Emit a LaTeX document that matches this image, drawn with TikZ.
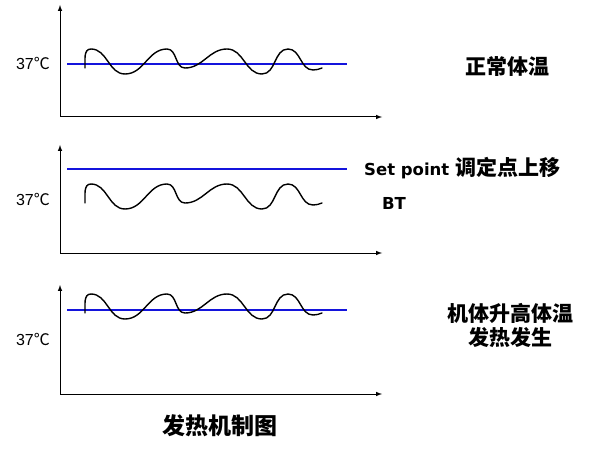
\documentclass[tikz,border=0pt]{standalone}
\usepackage{fontspec}
\setmainfont{Liberation Sans}
\newfontfamily\cjk{Noto Sans CJK SC}
\newfontfamily\vsans{DejaVu Sans}
\usepackage{tikz}

\tikzset{
  axisline/.style={line width=1pt, -latex},
  setline/.style={line width=1.8pt, color={rgb,255:red,20;green,20;blue,220}},
  btwave/.style={line width=1.4pt, line join=round, line cap=round},
  cnlabel/.style={font=\cjk\bfseries\fontsize{21}{24}\selectfont, align=center, inner sep=0pt},
  enlabel/.style={font=\vsans\bfseries\fontsize{16.5}{19}\selectfont, inner sep=0pt},
  templabel/.style={font=\fontsize{16}{18}\selectfont, inner sep=0pt}
}

\begin{document}
\begin{tikzpicture}[x=1pt, y=-1pt]

\useasboundingbox (0,0) rectangle (604,449);

% three panels: axis bottom / axis top / set line / wave shift / 37 label
\foreach \yb/\yt/\yl/\dw/\yc [count=\i] in {117/5/64/0/64, 253/145/169/135/199, 394/285/310/245/339}{
  \coordinate (o\i) at (60,\yb);
  \coordinate (ytop\i) at (60,\yt);
  \coordinate (xend\i) at (382,\yb);
  \draw[axisline] (o\i) -- (ytop\i);
  \draw[axisline] (o\i) -- (xend\i);

  \coordinate (sl\i) at (67,\yl);
  \coordinate (sr\i) at (347,\yl);
  \draw[setline] (sl\i) -- (sr\i);

  % body temperature
  \draw[btwave] (85,68+\dw) to[out=88,in=180] (91,49+\dw)
    to[out=0,in=180] (125,74+\dw) to[out=0,in=180] (167,49+\dw)
    to[out=0,in=180] (185,68+\dw) to[out=0,in=180] (227,49+\dw)
    to[out=0,in=180] (262,74+\dw) to[out=0,in=180] (288,49+\dw)
    to[out=0,in=180] (313,70+\dw) to[out=0,in=200] (322,68+\dw);

  \node[templabel] (t\i) at (33,\yc) {37{\cjk ℃}};
}

\node[cnlabel] (normal) at (507,67) {正常体温};
\node[anchor=west, inner sep=0pt] (setpoint) at (364,168)
  {{\vsans\bfseries\fontsize{16.5}{19}\selectfont Set point }{\cjk\bfseries\fontsize{21}{24}\selectfont 调定点上移}};
\node[enlabel] (bt) at (394,203) {BT};
\node[cnlabel] (fever) at (510,325) {机体升高体温\\发热发生};
\node[cnlabel, font=\cjk\bfseries\fontsize{23}{26}\selectfont] (title) at (220,426) {发热机制图};

\end{tikzpicture}
\end{document}
